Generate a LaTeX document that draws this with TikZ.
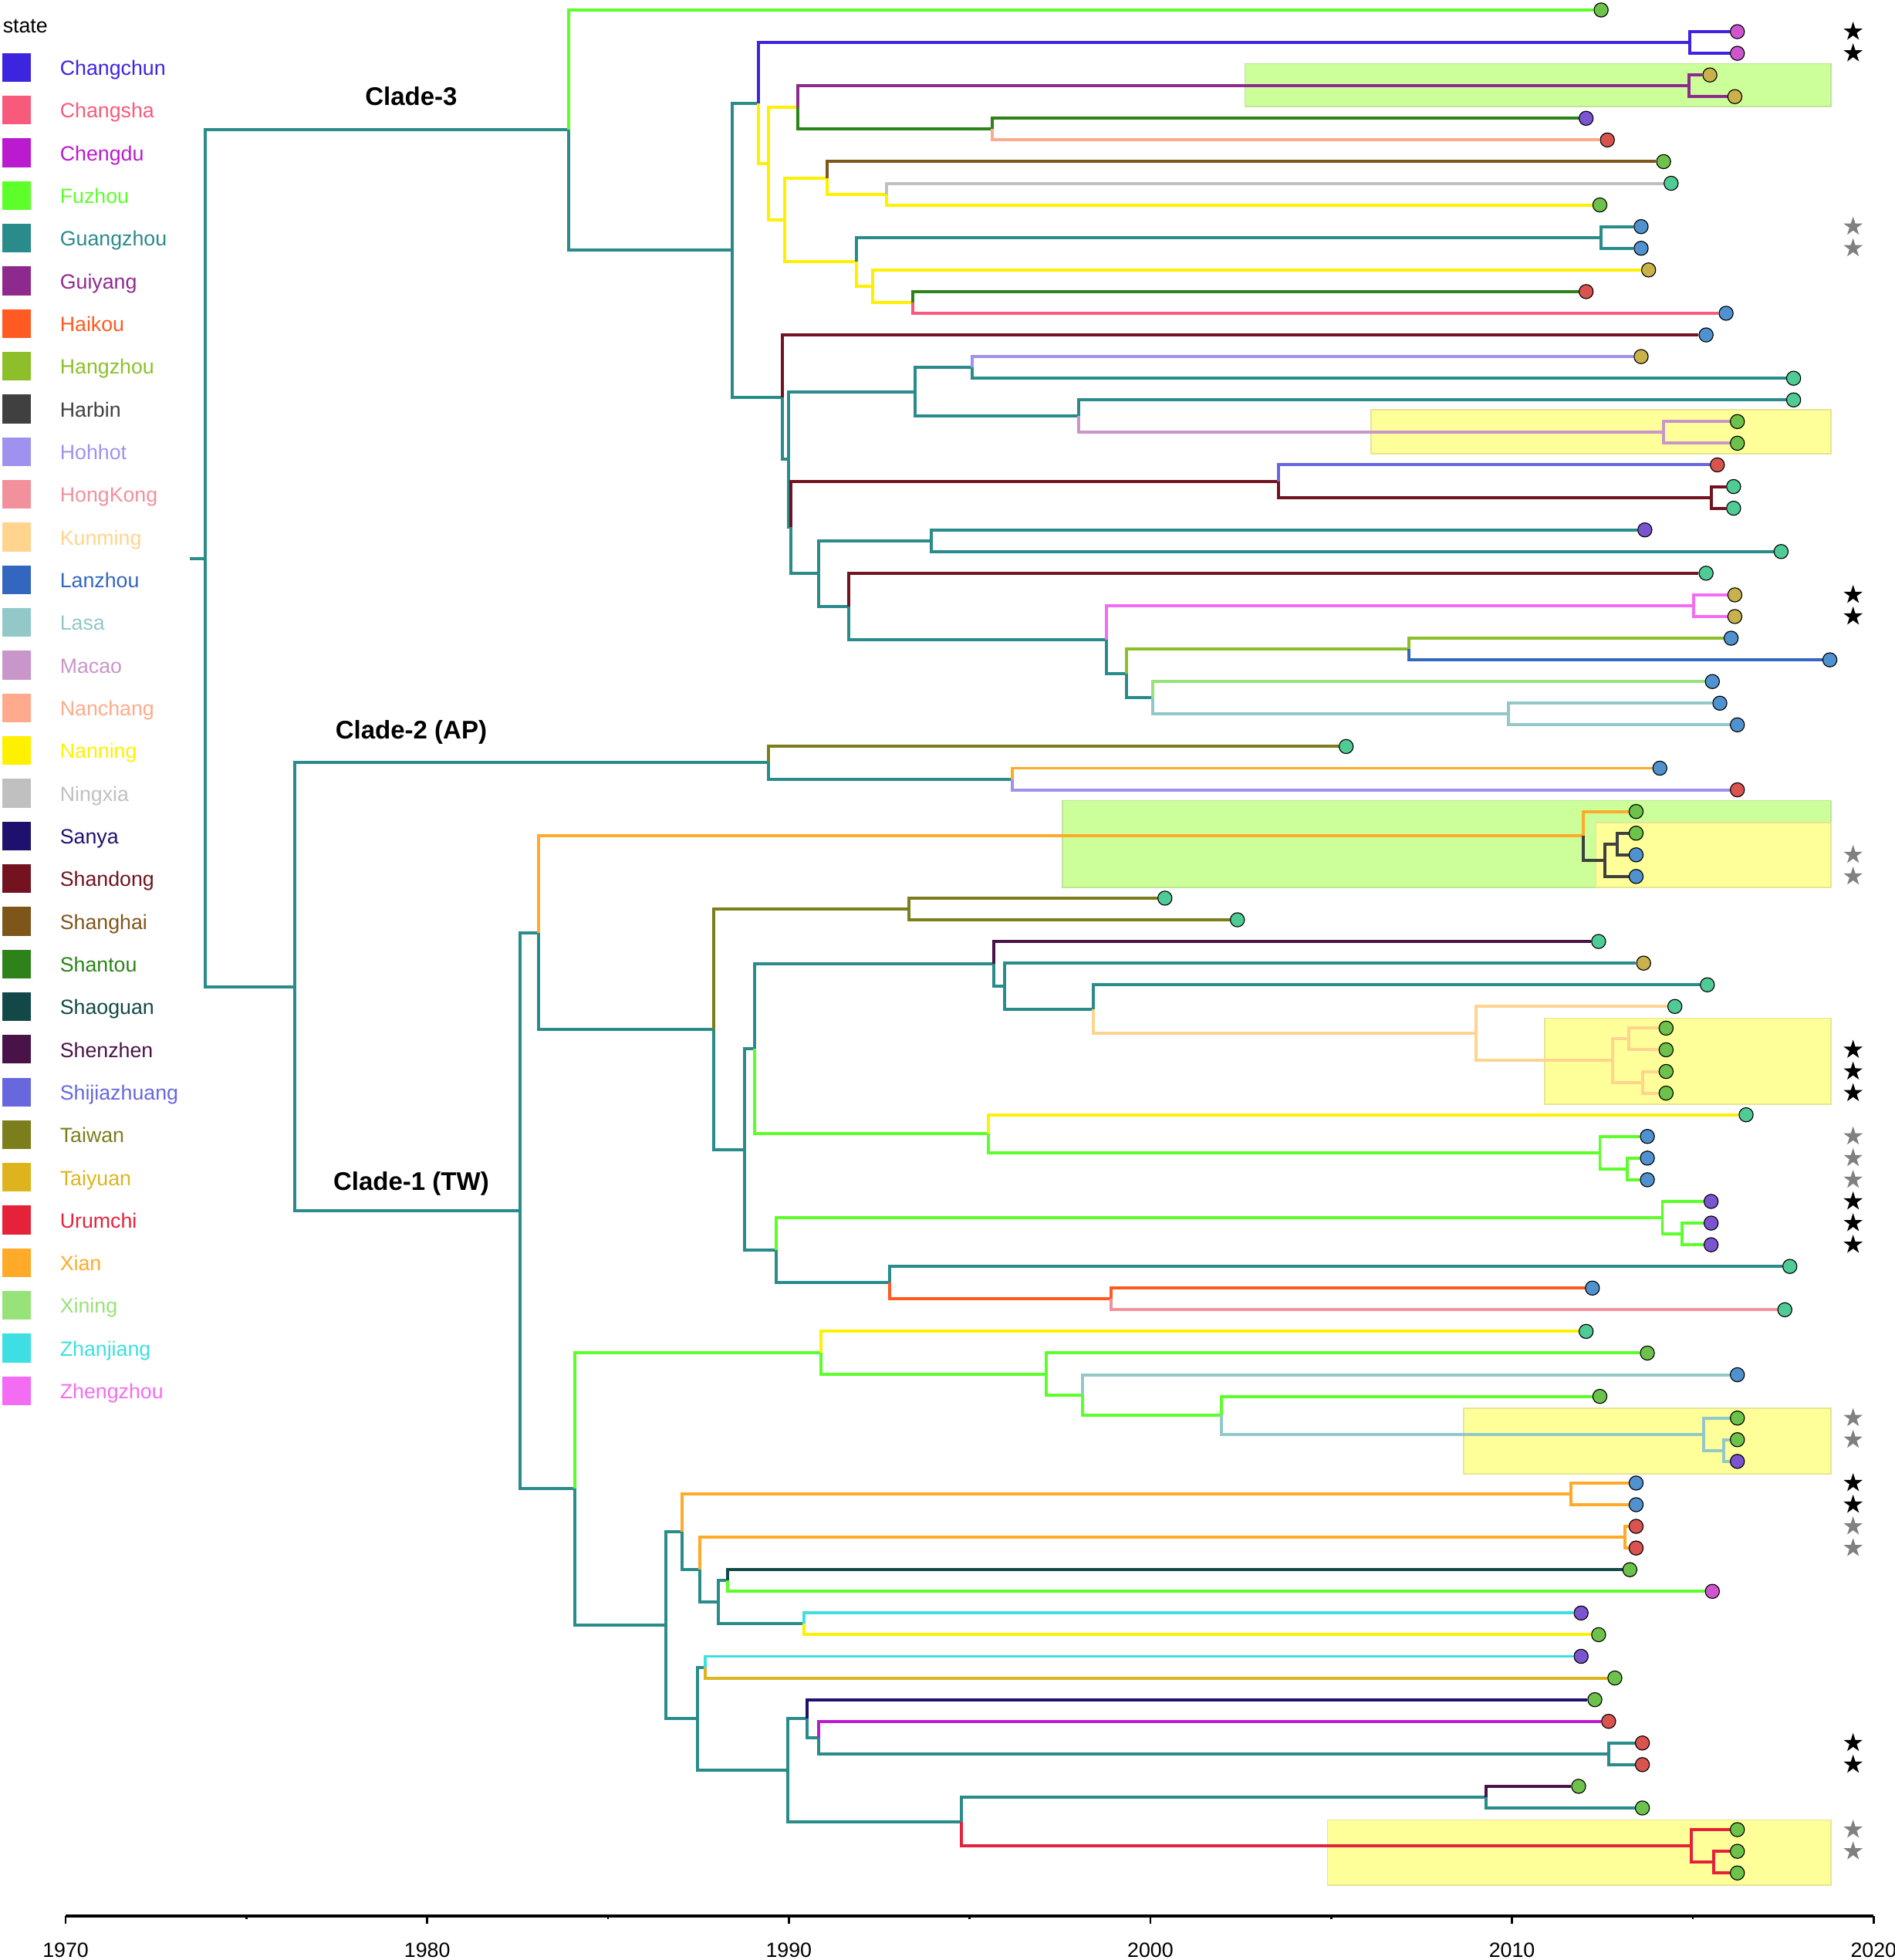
\documentclass[tikz,border=0pt]{standalone}
\usepackage{fontspec}
\setmainfont{Liberation Sans}
\usetikzlibrary{shapes.geometric}

% state colours (legend + branches)
\definecolor{Changchun}{HTML}{3D25E0}
\definecolor{Changsha}{HTML}{F85A7C}
\definecolor{Chengdu}{HTML}{BB1BCE}
\definecolor{Fuzhou}{HTML}{5CFF2A}
\definecolor{Guangzhou}{HTML}{2A8B8B}
\definecolor{Guiyang}{HTML}{8E2A8E}
\definecolor{Haikou}{HTML}{FF5A22}
\definecolor{Hangzhou}{HTML}{8DBF2B}
\definecolor{Harbin}{HTML}{404040}
\definecolor{Hohhot}{HTML}{9E92EE}
\definecolor{HongKong}{HTML}{F2919C}
\definecolor{Kunming}{HTML}{FFD48F}
\definecolor{Lanzhou}{HTML}{3366BF}
\definecolor{Lasa}{HTML}{92C8C8}
\definecolor{Macao}{HTML}{C896C8}
\definecolor{Nanchang}{HTML}{FFAA8C}
\definecolor{Nanning}{HTML}{FFF000}
\definecolor{Ningxia}{HTML}{C0C0C0}
\definecolor{Sanya}{HTML}{1E116E}
\definecolor{Shandong}{HTML}{72131F}
\definecolor{Shanghai}{HTML}{7F561A}
\definecolor{Shantou}{HTML}{2D821A}
\definecolor{Shaoguan}{HTML}{124848}
\definecolor{Shenzhen}{HTML}{4A1347}
\definecolor{Shijiazhuang}{HTML}{6767DE}
\definecolor{Taiwan}{HTML}{7B7E1B}
\definecolor{Taiyuan}{HTML}{DDB41E}
\definecolor{Urumchi}{HTML}{E5223A}
\definecolor{Xian}{HTML}{FFAA28}
\definecolor{Xining}{HTML}{98E27A}
\definecolor{Zhanjiang}{HTML}{3EDFE2}
\definecolor{Zhengzhou}{HTML}{F46CF4}
% tip dots
\definecolor{dotgreen}{HTML}{6CC24A}
\definecolor{dotblue}{HTML}{4F92CF}
\definecolor{dotgold}{HTML}{C9B24B}
\definecolor{dotred}{HTML}{D9534F}
\definecolor{dotpurple}{HTML}{7A55CF}
\definecolor{dotmag}{HTML}{CF55CF}
\definecolor{dotteal}{HTML}{4FCB95}
% highlight boxes
\definecolor{boxgreen}{HTML}{CCFF99}
\definecolor{boxyellow}{HTML}{FFFF99}

\pgfdeclarelayer{boxes}
\pgfdeclarelayer{branches}
\pgfsetlayers{boxes,branches,main}

\tikzset{
  br/.style={draw=#1, line width=1.4pt},
  tip/.style={circle, draw=black, line width=0.4pt, fill=#1, inner sep=0pt, minimum size=0.226cm},
  starmark/.style={star, star points=5, star point ratio=2.6, fill=#1, inner sep=0pt, minimum size=0.32cm},
  hibox/.style={fill=#1, draw=#1!80!gray, line width=0.6pt},
  lgtext/.style={anchor=base west, inner sep=0pt, font=\fontsize{9.4pt}{11pt}\selectfont},
  yrtext/.style={anchor=base, inner sep=0pt, font=\fontsize{9.4pt}{11pt}\selectfont},
  cladetext/.style={anchor=base, inner sep=0pt, font=\fontsize{11.6pt}{13pt}\selectfont\bfseries}
}

\begin{document}
\begin{tikzpicture}[x=0.02cm, y=-0.02cm]
\useasboundingbox (0,0) rectangle (1516,1568);

% Legend
\node[lgtext] (state) at (2,26) {state};
\foreach \s [count=\i from 0] in {Changchun,Changsha,Chengdu,Fuzhou,Guangzhou,Guiyang,Haikou,Hangzhou,Harbin,Hohhot,HongKong,Kunming,Lanzhou,Lasa,Macao,Nanchang,Nanning,Ningxia,Sanya,Shandong,Shanghai,Shantou,Shaoguan,Shenzhen,Shijiazhuang,Taiwan,Taiyuan,Urumchi,Xian,Xining,Zhanjiang,Zhengzhou}{
  \fill[\s] (1.6,{42.5+34.15*\i}) rectangle +(23,23);
  \node[lgtext, text=\s] (lg\i) at (47.7,{60.3+34.15*\i}) {\s};
}

% Highlighted clusters
\begin{pgfonlayer}{boxes}
  \draw[hibox=boxgreen] (996,51) rectangle (1465,85);
  \draw[hibox=boxyellow] (1097,328) rectangle (1465,363);
  \draw[hibox=boxgreen] (850,640.5) rectangle (1465,710);
  \draw[hibox=boxyellow] (1277,658) rectangle (1465,710);
  \draw[hibox=boxyellow] (1236,814.5) rectangle (1465,883.5);
  \draw[hibox=boxyellow] (1171,1126.5) rectangle (1465,1179);
  \draw[hibox=boxyellow] (1062,1456) rectangle (1465,1508);
\end{pgfonlayer}

% Clade labels
\node[cladetext] (cl3) at (329,84) {Clade-3};
\node[cladetext] (cl2) at (329,591) {Clade-2 (AP)};
\node[cladetext] (cl1) at (329,952) {Clade-1 (TW)};

% Time axis
\draw[line width=1.4pt] (52.5,1533) -- (1499,1533);
\foreach \yr in {1970,1980,...,2020}{
  \draw[line width=1pt] ({52.5+(\yr-1970)*28.93},1533) -- ++(0,6);
  \node[yrtext] (y\yr) at ({52.5+(\yr-1970)*28.93},1566) {\yr};
}
\foreach \yr in {1975,1985,...,2015}
  \draw[line width=1pt] ({52.5+(\yr-1970)*28.93},1533) -- ++(0,2.5);

% Tree: x in px, y in tip rows
\begin{scope}[y=-0.346667cm, yshift=-0.16cm]
  % internal nodes
  \foreach \n/\x/\r in {root/164/25.32, r0/152/25.32,
    c3/455/5.54, a3/586/11.09, b3/607/4.30, cc/1352/1.5, d3/615/7.09, e3/638/4.5, gy/1351/3.5,
    h3/794/5.5, f3/628/9.69, i3/662/7.75, k3/709/8.5, j3/685/11.63, l3/1281/10.5, m3/698/12.75, n3/730/13.5,
    c3b/626/17.88, p2/631/20.75, q3/732/17.63, tt3/778/16.5, u3/863/18.75, mc/1331/19.5, p1/633/23.88,
    r3/1023/21.75, sd/1369/22.5, s3/655/26.02, x3/745/24.5, y3/679/27.53, z3/885/29.06, zz/1355/27.5,
    aa3/901/30.63, hz/1127/29.5, ac3/922/31.75, ls/1207/32.5,
    n12/236/45.09, c2/615/34.75, c2b/810/35.5,
    c1/416/55.43, e1/431/42.59, xn/1267/38.13, h1/1284/39.25, h2/1294/38.5, f1/571/47.05, tw/727/41.5,
    g1/596/52.6, h3b/604/47.95, i3b/795/44.03, k3b/804/45.06, o3b/875/46.13, km/1181/47.25,
    km2/1290/48.5, km3/1303/47.5, km4/1314/49.5, j3b/791/51.88, fz/1280/52.75, fz2/1302/53.5,
    l3b/621/57.25, fz3/1330/55.75, fz4/1346/56.5, m3b/712/58.75, hk/889/59.5,
    o1/460/68.27, p3/657/61.98, q3b/837/62.97, r3b/866/63.94, s3b/977/64.88, ls2/1363/65.75, ls3/1379/66.5,
    u3b/533/74.56, v3/546/70.25, xa/1257/68.5, x3b/560/72, xa2/1300/70.5, z3b/575/73.5, aa3b/582/72.5,
    ab3/643/74.5, bb3/558/78.88, cc3/564/76.5, dd3/630/81.25, ee3/646/78.88, ff3/655/79.75,
    gg3/1287/80.5, hh3/769/83.63, ii3/1189/82.5, jj3/1353/84.75, kk3/1371/85.5}
    \coordinate (\n) at (\x,\r);

  % tips
  \foreach \r/\x/\c in {0/1281/dotgreen, 1/1390/dotmag, 2/1390/dotmag, 3/1368/dotgold, 4/1388/dotgold,
    5/1269/dotpurple, 6/1286/dotred, 7/1331/dotgreen, 8/1337/dotteal, 9/1280/dotgreen, 10/1313/dotblue,
    11/1313/dotblue, 12/1319/dotgold, 13/1269/dotred, 14/1381/dotblue, 15/1365/dotblue, 16/1313/dotgold,
    17/1435/dotteal, 18/1435/dotteal, 19/1390/dotgreen, 20/1390/dotgreen, 21/1374/dotred, 22/1387/dotteal,
    23/1387/dotteal, 24/1316/dotpurple, 25/1425/dotteal, 26/1365/dotteal, 27/1388/dotgold, 28/1388/dotgold,
    29/1385/dotblue, 30/1464/dotblue, 31/1370/dotblue, 32/1376/dotblue, 33/1390/dotblue,
    34/1077/dotteal, 35/1328/dotblue, 36/1390/dotred,
    37/1309/dotgreen, 38/1309/dotgreen, 39/1309/dotblue, 40/1309/dotblue, 41/932/dotteal, 42/990/dotteal,
    43/1279/dotteal, 44/1315/dotgold, 45/1366/dotteal, 46/1340/dotteal, 47/1333/dotgreen, 48/1333/dotgreen,
    49/1333/dotgreen, 50/1333/dotgreen, 51/1397/dotteal, 52/1318/dotblue, 53/1318/dotblue, 54/1318/dotblue,
    55/1369/dotpurple, 56/1369/dotpurple, 57/1369/dotpurple, 58/1432/dotteal, 59/1274/dotblue, 60/1428/dotteal,
    61/1269/dotteal, 62/1318/dotgreen, 63/1390/dotblue, 64/1280/dotgreen, 65/1390/dotgreen, 66/1390/dotgreen,
    67/1390/dotpurple, 68/1309/dotblue, 69/1309/dotblue, 70/1309/dotred, 71/1309/dotred, 72/1304/dotgreen,
    73/1370/dotmag, 74/1265/dotpurple, 75/1279/dotgreen, 76/1265/dotpurple, 77/1292/dotgreen, 78/1276/dotgreen,
    79/1287/dotred, 80/1314/dotred, 81/1314/dotred, 82/1263/dotgreen, 83/1314/dotgreen, 84/1390/dotgreen,
    85/1390/dotgreen, 86/1390/dotgreen}
    \node[tip=\c] (t\r) at (\x,\r) {};

  % stars
  \foreach \r in {1,2,27,28,48,49,50,55,56,57,68,69,80,81}
    \node[starmark=black] (sb\r) at (1482.6,\r) {};
  \foreach \r in {10,11,39,40,52,53,54,65,66,70,71,84,85}
    \node[starmark=gray] (sg\r) at (1482.6,\r) {};

  \begin{pgfonlayer}{branches}
    \draw[br=Guangzhou] (r0) -- (root);
    % root and Clade-3
    \foreach \p/\c/\k in {root/c3/Guangzhou, root/n12/Guangzhou,
      c3/t0/Fuzhou, c3/a3/Guangzhou, a3/b3/Guangzhou, a3/c3b/Guangzhou,
      b3/cc/Changchun, cc/t1/Changchun, cc/t2/Changchun, b3/d3/Nanning, d3/e3/Nanning,
      e3/gy/Guiyang, gy/t3/Guiyang, gy/t4/Guiyang, e3/h3/Shantou, h3/t5/Shantou, h3/t6/Nanchang,
      d3/f3/Nanning, f3/i3/Nanning, i3/t7/Shanghai, i3/k3/Nanning, k3/t8/Ningxia, k3/t9/Nanning,
      f3/j3/Nanning, j3/l3/Guangzhou, l3/t10/Guangzhou, l3/t11/Guangzhou, j3/m3/Nanning,
      m3/t12/Nanning, m3/n3/Nanning, n3/t13/Shantou, n3/t14/Changsha,
      c3b/t15/Shandong, c3b/p2/Guangzhou, p2/q3/Guangzhou, q3/tt3/Guangzhou, tt3/t16/Hohhot,
      tt3/t17/Guangzhou, q3/u3/Guangzhou, u3/t18/Guangzhou, u3/mc/Macao, mc/t19/Macao, mc/t20/Macao,
      p2/p1/Guangzhou, p1/r3/Shandong, r3/t21/Shijiazhuang, r3/sd/Shandong, sd/t22/Shandong,
      sd/t23/Shandong, p1/s3/Guangzhou, s3/x3/Guangzhou, x3/t24/Guangzhou, x3/t25/Guangzhou,
      s3/y3/Guangzhou, y3/t26/Shandong, y3/z3/Guangzhou, z3/zz/Zhengzhou, zz/t27/Zhengzhou,
      zz/t28/Zhengzhou, z3/aa3/Guangzhou, aa3/hz/Hangzhou, hz/t29/Hangzhou, hz/t30/Lanzhou,
      aa3/ac3/Guangzhou, ac3/t31/Xining, ac3/ls/Lasa, ls/t32/Lasa, ls/t33/Lasa}
      \draw[br=\k] (\p) |- (\c);
    % Clade-2
    \foreach \p/\c/\k in {n12/c2/Guangzhou, c2/t34/Taiwan, c2/c2b/Guangzhou, c2b/t35/Xian, c2b/t36/Hohhot}
      \draw[br=\k] (\p) |- (\c);
    % Clade-1
    \foreach \p/\c/\k in {n12/c1/Guangzhou, c1/e1/Guangzhou, e1/xn/Xian, xn/t37/Xian, xn/h1/Harbin,
      h1/h2/Harbin, h2/t38/Harbin, h2/t39/Harbin, h1/t40/Harbin,
      e1/f1/Guangzhou, f1/tw/Taiwan, tw/t41/Taiwan, tw/t42/Taiwan, f1/g1/Guangzhou,
      g1/h3b/Guangzhou, h3b/i3b/Guangzhou, i3b/t43/Shenzhen, i3b/k3b/Guangzhou, k3b/t44/Guangzhou,
      k3b/o3b/Guangzhou, o3b/t45/Guangzhou, o3b/km/Kunming, km/t46/Kunming, km/km2/Kunming,
      km2/km3/Kunming, km3/t47/Kunming, km3/t48/Kunming, km2/km4/Kunming, km4/t49/Kunming, km4/t50/Kunming,
      h3b/j3b/Fuzhou, j3b/t51/Nanning, j3b/fz/Fuzhou, fz/t52/Fuzhou, fz/fz2/Fuzhou, fz2/t53/Fuzhou,
      fz2/t54/Fuzhou, g1/l3b/Guangzhou, l3b/fz3/Fuzhou, fz3/t55/Fuzhou, fz3/fz4/Fuzhou, fz4/t56/Fuzhou,
      fz4/t57/Fuzhou, l3b/m3b/Guangzhou, m3b/t58/Guangzhou, m3b/hk/Haikou, hk/t59/Haikou, hk/t60/HongKong,
      c1/o1/Guangzhou, o1/p3/Fuzhou, p3/t61/Nanning, p3/q3b/Fuzhou, q3b/t62/Fuzhou, q3b/r3b/Fuzhou,
      r3b/t63/Lasa, r3b/s3b/Fuzhou, s3b/t64/Fuzhou, s3b/ls2/Lasa, ls2/t65/Lasa, ls2/ls3/Lasa,
      ls3/t66/Lasa, ls3/t67/Lasa,
      o1/u3b/Guangzhou, u3b/v3/Guangzhou, v3/xa/Xian, xa/t68/Xian, xa/t69/Xian, v3/x3b/Guangzhou,
      x3b/xa2/Xian, xa2/t70/Xian, xa2/t71/Xian, x3b/z3b/Guangzhou, z3b/aa3b/Guangzhou,
      aa3b/t72/Shaoguan, aa3b/t73/Fuzhou, z3b/ab3/Guangzhou, ab3/t74/Zhanjiang, ab3/t75/Nanning,
      u3b/bb3/Guangzhou, bb3/cc3/Guangzhou, cc3/t76/Zhanjiang, cc3/t77/Taiyuan, bb3/dd3/Guangzhou,
      dd3/ee3/Guangzhou, ee3/t78/Sanya, ee3/ff3/Guangzhou, ff3/t79/Chengdu, ff3/gg3/Guangzhou,
      gg3/t80/Guangzhou, gg3/t81/Guangzhou, dd3/hh3/Guangzhou, hh3/ii3/Guangzhou, ii3/t82/Shenzhen,
      ii3/t83/Guangzhou, hh3/jj3/Urumchi, jj3/t84/Urumchi, jj3/kk3/Urumchi, kk3/t85/Urumchi,
      kk3/t86/Urumchi}
      \draw[br=\k] (\p) |- (\c);
  \end{pgfonlayer}
\end{scope}
\end{tikzpicture}
\end{document}
